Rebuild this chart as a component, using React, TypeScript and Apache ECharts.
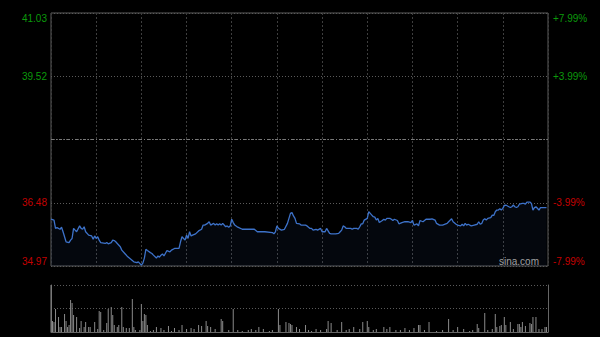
import React, { useEffect, useRef } from "react";
import * as echarts from "echarts";

// minute of session (0..330), price
const pricePoints: [number, number][] = [
  [0, 36.09], [2, 36.07], [3, 35.87], [4, 35.89], [6, 35.85], [7, 35.9], [8, 35.79], [10, 35.55],
  [12, 35.53], [13, 35.59], [14, 35.63], [15, 35.87], [16, 35.83], [17, 35.79], [19, 35.93], [20, 35.87],
  [21, 35.85], [22, 35.91], [23, 35.79], [25, 35.71], [27, 35.69], [28, 35.61], [29, 35.69], [30, 35.63],
  [31, 35.67], [32, 35.59], [33, 35.53], [36, 35.51], [37, 35.53], [38, 35.5], [40, 35.53], [41, 35.59],
  [42, 35.58], [43, 35.55], [44, 35.51], [46, 35.43], [47, 35.35], [49, 35.27], [51, 35.19], [53, 35.13],
  [55, 35.07], [57, 35.05], [58, 35.07], [60, 34.99], [61, 35.04], [62, 35.16], [63, 35.37], [64, 35.34],
  [66, 35.29], [67, 35.27], [68, 35.23], [70, 35.16], [71, 35.21], [72, 35.18], [73, 35.23], [74, 35.26],
  [75, 35.21], [77, 35.34], [79, 35.31], [80, 35.35], [82, 35.39], [84, 35.39], [85, 35.39], [86, 35.55],
  [87, 35.67], [89, 35.59], [90, 35.71], [91, 35.63], [92, 35.79], [93, 35.69], [94, 35.71], [96, 35.74],
  [98, 35.81], [100, 35.85], [101, 35.95], [102, 35.95], [104, 35.99], [105, 36.03], [106, 35.95], [108, 35.99],
  [109, 35.95], [110, 35.98], [111, 35.95], [112, 35.98], [113, 35.95], [114, 35.99], [116, 35.91], [117, 35.93],
  [118, 35.9], [119, 35.93], [120, 36.09], [121, 36.01], [122, 35.95], [124, 35.9], [127, 35.85], [129, 35.85],
  [133, 35.85], [135, 35.85], [137, 35.79], [142, 35.79], [147, 35.77], [148, 35.74], [149, 35.79], [150, 35.93],
  [151, 35.87], [153, 35.83], [155, 35.85], [157, 35.99], [158, 36.11], [159, 36.23], [160, 36.25], [161, 36.17],
  [162, 36.11], [163, 35.99], [165, 35.98], [166, 35.95], [169, 35.95], [170, 35.93], [172, 35.87], [173, 35.87],
  [174, 35.83], [176, 35.85], [177, 35.83], [179, 35.87], [180, 35.79], [182, 35.79], [183, 35.87], [185, 35.75],
  [186, 35.74], [189, 35.74], [191, 35.75], [192, 35.79], [193, 35.83], [194, 35.93], [195, 35.91], [196, 35.87],
  [199, 35.87], [200, 35.85], [201, 35.87], [203, 35.87], [204, 35.85], [205, 35.91], [206, 35.98], [207, 35.98],
  [208, 36.07], [210, 36.11], [211, 36.27], [212, 36.23], [213, 36.19], [214, 36.15], [215, 36.14], [216, 36.07],
  [217, 36.11], [218, 36.01], [220, 36.06], [221, 36.09], [222, 36.07], [223, 36.11], [225, 36.11], [226, 36.09],
  [227, 36.06], [228, 36.09], [230, 36.06], [231, 35.98], [233, 36.01], [235, 36.03], [237, 36.03], [239, 36.01],
  [240, 36.06], [241, 35.95], [243, 35.98], [244, 35.93], [245, 36.06], [247, 36.03], [249, 36.09], [252, 36.09],
  [253, 36.1], [255, 36.07], [256, 35.99], [258, 35.95], [260, 35.95], [263, 35.99], [264, 36.03], [266, 36.1],
  [267, 36.03], [269, 35.97], [270, 35.95], [272, 35.93], [273, 35.97], [274, 35.93], [275, 35.99], [276, 35.95],
  [277, 35.97], [279, 35.93], [281, 35.95], [283, 35.97], [284, 36.03], [285, 35.97], [286, 35.99], [287, 36.07],
  [288, 36.1], [289, 36.07], [290, 36.11], [292, 36.13], [293, 36.19], [294, 36.18], [295, 36.27], [296, 36.31],
  [297, 36.31], [298, 36.34], [299, 36.31], [300, 36.35], [301, 36.42], [302, 36.43], [304, 36.39], [305, 36.37],
  [306, 36.39], [307, 36.43], [308, 36.39], [309, 36.37], [310, 36.39], [311, 36.45], [313, 36.47], [314, 36.47],
  [315, 36.45], [316, 36.5], [317, 36.5], [318, 36.5], [319, 36.47], [320, 36.31], [321, 36.37], [322, 36.39],
  [324, 36.31], [325, 36.37], [326, 36.37], [329, 36.37],
];

// minute of session, volume (relative units)
const volumePoints: [number, number][] = [
  [0, 47], [1, 11], [2, 10], [3, 23], [5, 15], [6, 5], [7, 5], [9, 18], [10, 11], [11, 5], [12, 7],
  [13, 32], [14, 29], [15, 17], [17, 15], [19, 4], [20, 11], [22, 5], [23, 10], [25, 5], [26, 5],
  [29, 10], [31, 3], [32, 21], [33, 20], [35, 2], [37, 9], [38, 23], [40, 25], [41, 17], [42, 7],
  [44, 5], [45, 7], [47, 25], [48, 5], [50, 4], [52, 4], [54, 33], [55, 5], [56, 2], [59, 2],
  [60, 28], [61, 11], [62, 18], [63, 17], [64, 7], [66, 1], [68, 2], [70, 5], [73, 4], [75, 2],
  [78, 6], [80, 1], [82, 4], [85, 2], [87, 7], [90, 3], [93, 4], [95, 3], [98, 7], [100, 6],
  [103, 11], [104, 6], [106, 5], [109, 3], [113, 13], [114, 11], [118, 2], [121, 23], [124, 2],
  [127, 1], [131, 2], [133, 3], [136, 2], [138, 5], [141, 3], [145, 1], [147, 2], [151, 23], [152, 7],
  [156, 10], [158, 9], [159, 8], [160, 7], [163, 5], [165, 3], [169, 7], [171, 2], [173, 1], [176, 3],
  [179, 2], [183, 3], [184, 11], [186, 9], [190, 2], [193, 10], [196, 2], [198, 3], [201, 5], [205, 3],
  [207, 10], [210, 11], [211, 5], [214, 2], [216, 3], [221, 5], [223, 3], [225, 5], [229, 2], [232, 2],
  [235, 4], [238, 2], [241, 4], [244, 7], [245, 7], [248, 2], [251, 10], [256, 1], [260, 2], [264, 13],
  [267, 2], [270, 5], [274, 3], [278, 1], [280, 2], [283, 8], [284, 4], [288, 19], [290, 2], [293, 3],
  [295, 18], [296, 5], [298, 6], [299, 7], [301, 15], [302, 7], [305, 10], [307, 3], [310, 8], [311, 8],
  [312, 5], [313, 10], [315, 6], [318, 9], [319, 8], [320, 15], [322, 15], [324, 3], [326, 3], [328, 5],
  [329, 5],
];

const prevClose = 38.0;
const priceMin = 34.97;
const priceMax = 41.03;
const sessionMinutes = 330;
const volumeMax = 47;

const leftTickLabels = ["34.97", "36.48", "", "39.52", "41.03"];
const rightTickLabels = ["-7.99%", "-3.99%", "", "+3.99%", "+7.99%"];

const GREEN = "#0b9a0b";
const RED = "#c40000";
const FONT = "Arial, 'Liberation Sans', sans-serif";

export default function App() {
  const ref = useRef<HTMLDivElement>(null);

  useEffect(() => {
    if (!ref.current) return;
    const chart = echarts.init(ref.current, undefined, { renderer: "svg" });

    const labelColor = (v: any) => (Number(v) < 2 ? RED : GREEN);

    chart.setOption({
      animation: false,
      backgroundColor: "#000",
      grid: [
        { left: 51, top: 13, width: 497, height: 253, show: true, borderColor: "#5c5c5c", borderWidth: 1, backgroundColor: "transparent" },
        { left: 51, top: 285, width: 497, height: 47 },
      ],
      xAxis: [
        {
          gridIndex: 0, type: "value", min: 0, max: sessionMinutes, interval: 30,
          axisLine: { show: false }, axisTick: { show: false }, axisLabel: { show: false },
          splitLine: { show: true, lineStyle: { color: "#3e3e3e", type: [2, 2], width: 1 } },
        },
        {
          gridIndex: 1, type: "value", min: 0, max: sessionMinutes, interval: 30,
          axisLine: { show: true, lineStyle: { color: "#666", width: 1 } },
          axisTick: { show: false }, axisLabel: { show: false }, splitLine: { show: false },
        },
      ],
      yAxis: [
        { gridIndex: 0, type: "value", min: priceMin, max: priceMax, show: false, splitLine: { show: false } },
        {
          gridIndex: 0, type: "value", min: 0, max: 4, interval: 1, position: "left",
          axisLine: { show: false }, axisTick: { show: false },
          axisLabel: {
            show: true, fontSize: 10, fontFamily: FONT, margin: 4,
            formatter: (v: number) => leftTickLabels[Math.round(v)] ?? "",
            color: labelColor,
            verticalAlignMinLabel: "bottom", verticalAlignMaxLabel: "top",
          },
          splitLine: { show: true, lineStyle: { color: "#5a5a5a", type: [1, 2], width: 1 } },
        },
        {
          gridIndex: 0, type: "value", min: 0, max: 4, interval: 1, position: "right",
          axisLine: { show: false }, axisTick: { show: false },
          axisLabel: {
            show: true, fontSize: 10, fontFamily: FONT, margin: 5,
            formatter: (v: number) => rightTickLabels[Math.round(v)] ?? "",
            color: labelColor,
            verticalAlignMinLabel: "bottom", verticalAlignMaxLabel: "top",
          },
          splitLine: { show: false },
        },
        {
          gridIndex: 1, type: "value", min: 0, max: volumeMax, interval: volumeMax / 2, position: "left",
          axisLine: { show: true, lineStyle: { color: "#666", width: 1 } },
          axisTick: { show: false }, axisLabel: { show: false },
          splitLine: { show: true, lineStyle: { color: "#5a5a5a", type: [1, 2], width: 1 } },
        },
        {
          gridIndex: 1, type: "value", min: 0, max: volumeMax, interval: volumeMax / 2, position: "right",
          axisLine: { show: true, lineStyle: { color: "#666", width: 1 } },
          axisTick: { show: false }, axisLabel: { show: false }, splitLine: { show: false },
        },
      ],
      series: [
        {
          type: "line",
          xAxisIndex: 0,
          yAxisIndex: 0,
          data: pricePoints,
          showSymbol: false,
          symbol: "none",
          lineStyle: { color: "#3d72c9", width: 1.3 },
          areaStyle: { color: "rgba(60,100,190,0.1)", origin: "start" },
          markLine: {
            silent: true,
            symbol: "none",
            label: { show: false },
            lineStyle: { color: "#7a7a7a", type: [3, 2, 1, 2], width: 1 },
            data: [{ yAxis: prevClose }],
          },
          z: 3,
        },
        {
          type: "bar",
          xAxisIndex: 1,
          yAxisIndex: 3,
          data: volumePoints,
          barWidth: 1,
          itemStyle: { color: "#8a8a8a" },
        },
      ],
      graphic: [
        {
          type: "text",
          left: 499,
          top: 256,
          style: { text: "sina.com", fill: "#a0a0a0", font: `10px ${FONT}` },
          z: 10,
        },
      ],
    });

    return () => chart.dispose();
  }, []);

  return (
    <div
      ref={ref}
      style={{ position: "fixed", left: 0, top: 0, width: 600, height: 337, background: "#000" }}
    />
  );
}
